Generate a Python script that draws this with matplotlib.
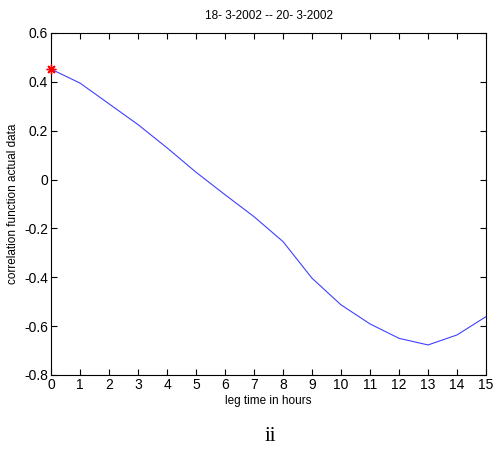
import numpy as np
import matplotlib
matplotlib.use("Agg")
import matplotlib.pyplot as plt

# lag (hours) and correlation values
lag_hours = [0, 1, 2, 3, 4, 5, 6, 7, 8, 9, 10, 11, 12, 13, 14, 15]
corr = [0.452, 0.395, 0.31, 0.225, 0.13, 0.03, -0.062, -0.152, -0.254,
        -0.404, -0.513, -0.591, -0.65, -0.677, -0.636, -0.561]

x_ticks = list(range(0, 16))
y_ticks = [-0.8, -0.6, -0.4, -0.2, 0, 0.2, 0.4, 0.6]
y_tick_labels = ["-0.8", "-0.6", "-0.4", "-0.2", "0", "0.2", "0.4", "0.6"]

plt.rcParams['font.family'] = ['Liberation Sans', 'DejaVu Sans']

fig = plt.figure(figsize=(4.97, 4.5), dpi=100)
ax = fig.add_axes([0.1026, 0.1667, 0.8754, 0.76])

ax.plot(lag_hours, corr, color="#0000ff", linewidth=0.8, alpha=0.75)
# MATLAB-style '*' marker on the first point
ax.plot(lag_hours[0], corr[0], marker=(8, 2, 0), color="red", markersize=7,
        markeredgewidth=1.0, linestyle="none", clip_on=False, zorder=5)

ax.set_xlim(0, 15)
ax.set_ylim(-0.8, 0.6)
ax.set_xticks(x_ticks)
ax.set_xticklabels([str(t) for t in x_ticks])
ax.set_yticks(y_ticks)
ax.set_yticklabels(y_tick_labels)
ax.tick_params(direction="in", top=True, right=True, labelsize=10,
               length=4, width=0.8, pad=2)
for s in ax.spines.values():
    s.set_linewidth(0.8)

ax.set_title("18- 3-2002 -- 20- 3-2002", fontsize=8.5, pad=10)
ax.set_xlabel("leg time in hours", fontsize=8.5, labelpad=2)
ax.set_ylabel("correlation function actual data", fontsize=8.5, labelpad=4)

fig.text(0.543, 0.02, "ii", family="Liberation Serif", fontsize=15,
         ha="center", va="baseline")

fig.savefig("out.png", dpi=100)
